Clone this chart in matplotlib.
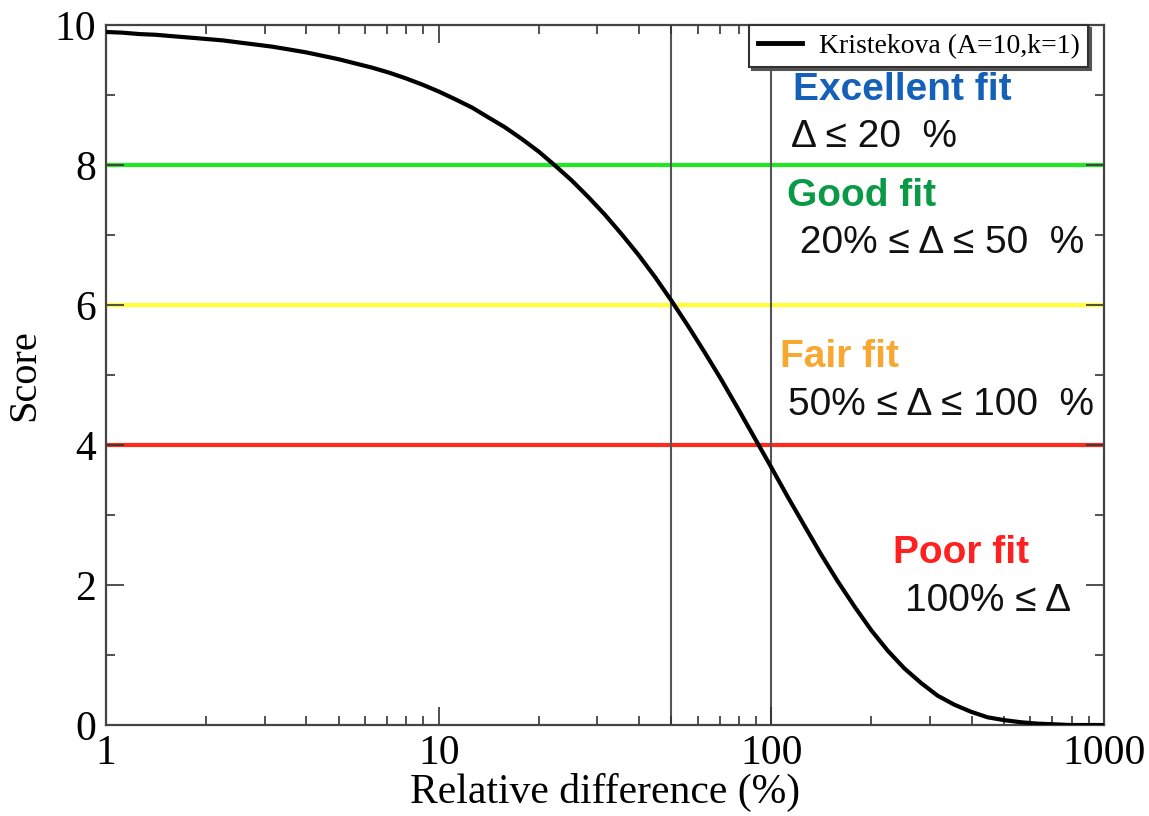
import matplotlib
matplotlib.use("Agg")
import matplotlib.pyplot as plt
from matplotlib.ticker import FixedLocator, NullFormatter, MultipleLocator

# Curve values
rel_diff = [1, 1.12, 1.26, 1.41, 1.58, 1.78, 2, 2.24, 2.51, 2.82, 3.16, 3.55, 3.98,
            4.47, 5.01, 5.62, 6.31, 7.08, 7.94, 8.91, 10, 11.2, 12.6, 14.1, 15.8,
            17.8, 20, 22.4, 25.1, 28.2, 31.6, 35.5, 39.8, 44.7, 50.1, 56.2, 63.1,
            70.8, 79.4, 89.1, 100, 112, 126, 141, 158, 178, 200, 224, 251, 282,
            316, 355, 398, 447, 501, 562, 631, 708, 794, 891, 1000]
score = [9.90, 9.89, 9.87, 9.86, 9.84, 9.82, 9.80, 9.78, 9.75, 9.72, 9.69, 9.65,
         9.61, 9.56, 9.51, 9.45, 9.39, 9.32, 9.24, 9.15, 9.05, 8.94, 8.82, 8.68,
         8.54, 8.37, 8.19, 7.99, 7.78, 7.54, 7.29, 7.01, 6.72, 6.40, 6.06, 5.70,
         5.32, 4.93, 4.52, 4.10, 3.68, 3.26, 2.84, 2.44, 2.06, 1.69, 1.35, 1.06,
         0.81, 0.60, 0.42, 0.29, 0.19, 0.11, 0.07, 0.04, 0.02, 0.01, 0.0, 0.0, 0.0]

series_label = "Kristekova (A=10,k=1)"
thresholds = [8, 6, 4]
threshold_colors = ["#22e622", "#ffff33", "#ff2a1a"]
vlines = [50, 100]

x_ticks = [1, 10, 100, 1000]
x_ticklabels = ["1", "10", "100", "1000"]
y_ticks = [0, 2, 4, 6, 8, 10]

headings = ["Excellent fit", "Good fit", "Fair fit", "Poor fit"]
heading_colors = ["#1560b8", "#0a9a47", "#f8a830", "#ff2020"]
ranges = ["\u0394 \u2264 20  %", " 20% \u2264 \u0394 \u2264 50  %",
          "50% \u2264 \u0394 \u2264 100  %", "100% \u2264 \u0394"]

fig = plt.figure(figsize=(11.49, 8.16), dpi=100)
ax = fig.add_axes([0.0923, 0.1115, 0.8685, 0.8579])

for yv, c in zip(thresholds, threshold_colors):
    ax.axhline(yv, color=c, lw=3, zorder=1)
for xv in vlines:
    ax.axvline(xv, color="#555555", lw=1.5, zorder=1)

ax.plot(rel_diff, score, color="black", lw=3, label=series_label, zorder=3,
        solid_joinstyle="round")

ax.set_xscale("log")
ax.set_xlim(1, 1000)
ax.set_ylim(0, 10)

serif = ["Liberation Serif", "DejaVu Serif"]
sans = ["Liberation Sans", "DejaVu Sans"]

ax.xaxis.set_major_locator(FixedLocator(x_ticks))
minor = [m * d for d in [1, 10, 100] for m in range(2, 10)]
ax.xaxis.set_minor_locator(FixedLocator(minor))
ax.xaxis.set_minor_formatter(NullFormatter())
ax.set_xticklabels(x_ticklabels)
ax.yaxis.set_major_locator(FixedLocator(y_ticks))
ax.yaxis.set_minor_locator(MultipleLocator(1))

ax.tick_params(which="both", direction="in", top=True, right=True, width=1.2,
               color="#333333")
ax.tick_params(which="major", length=13, labelsize=30, pad=7)
ax.tick_params(which="minor", length=6.5)
for lab in ax.get_xticklabels() + ax.get_yticklabels():
    lab.set_family(serif)
for s in ax.spines.values():
    s.set_linewidth(1.6)
    s.set_color("#444444")

ax.set_xlabel("Relative difference (%)", family=serif, fontsize=30, labelpad=0)
ax.set_ylabel("Score", family=serif, fontsize=29, labelpad=8)

leg = ax.legend(loc="upper right", bbox_to_anchor=(0.984, 1.0),
                prop={"family": serif, "size": 20},
                frameon=True, fancybox=False,
                shadow={"color": "#555555", "alpha": 1.0},
                handlelength=1.6, borderpad=0.3, handletextpad=0.6,
                borderaxespad=0)
leg.get_frame().set_edgecolor("#333333")
leg.get_frame().set_linewidth(1.5)
for line in leg.get_lines():
    line.set_linewidth(3.5)

# Annotations (pixel positions converted to figure fractions)
W, H = 1149, 816
heading_pos = [(793, 90), (787, 196), (780, 357), (893, 553)]
range_pos = [(791, 137), (789, 243), (788, 405), (905, 601)]
for t, c, (px, py) in zip(headings, heading_colors, heading_pos):
    fig.text(px / W, 1 - py / H, t, color=c, fontsize=28, fontweight="bold",
             family=sans, va="center", ha="left")
for t, (px, py) in zip(ranges, range_pos):
    fig.text(px / W, 1 - py / H, t, color="#111111", fontsize=28,
             family=sans, va="center", ha="left")

fig.savefig("out.png", dpi=100)
